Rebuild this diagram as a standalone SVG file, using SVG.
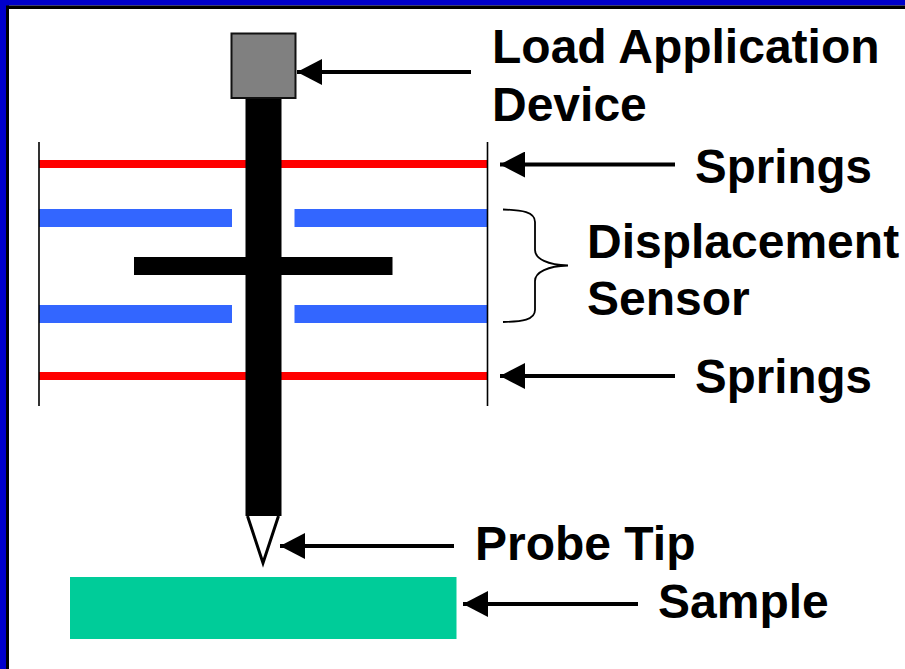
<svg xmlns="http://www.w3.org/2000/svg" width="905" height="669" viewBox="0 0 905 669">
<style>
text{font-family:"Liberation Sans",Arial,sans-serif;font-weight:bold;font-size:48px;fill:#000}
text.s{font-size:47.5px}
.arrow{stroke:#000;stroke-width:4;fill:none;marker-start:url(#ah)}
.red{fill:#f00}.blue{fill:#36f}
.wall{stroke:#000;stroke-width:1.6;fill:none}
</style>
<defs>
<marker id="ah" markerUnits="userSpaceOnUse" markerWidth="26" markerHeight="26" refX="0" refY="13" orient="auto">
<path d="M0 13L25 0V26Z" fill="#000"/>
</marker>
</defs>
<rect width="905" height="669" fill="#fff"/>
<g id="frame">
<path d="M0 0H905V5.500H9V669H0Z" fill="#0000cc"/>
<path d="M6 5.500H905V9H9V669H6Z" fill="#000"/>
</g>
<g id="springs">
<rect class="red" x="39" y="160" width="448" height="8"/>
<rect class="red" x="39" y="372" width="448" height="8"/>
</g>
<g id="sensor-plates">
<rect class="blue" x="39" y="209" width="193" height="18"/>
<rect class="blue" x="294.500" y="209" width="192.500" height="18"/>
<rect class="blue" x="39" y="305" width="193" height="18"/>
<rect class="blue" x="294.500" y="305" width="192.500" height="18"/>
</g>
<g id="walls">
<path class="wall" d="M39 142V406M487.500 142V406"/>
</g>
<g id="probe">
<rect x="245.500" y="98" width="36" height="418" fill="#000"/>
<rect x="134" y="257" width="258.500" height="18" fill="#000"/>
</g>
<g id="load-device">
<rect x="231.500" y="33.500" width="64" height="64.500" fill="#808080" stroke="#111" stroke-width="2"/>
</g>
<g id="tip">
<path d="M247.500 516L263 563L278.500 516" fill="#fff" stroke="#000" stroke-width="3"/>
</g>
<g id="sample">
<rect x="70" y="577" width="386.500" height="62" fill="#00cc99"/>
</g>
<g id="connectors">
<path class="arrow" d="M297 72H471"/>
<path class="arrow" d="M500 164.500H675"/>
<path class="arrow" d="M500 376H675"/>
<path class="arrow" d="M280 546H454"/>
<path class="arrow" d="M463 604H638"/>
<path d="M503 209.500C522 210 535 212 535 222V250C535 259 548 265 568 265.500C548 266 535 272 535 281V310C535 320 522 321.500 503 322" fill="none" stroke="#000" stroke-width="1.800"/>
</g>
<g id="labels">
<text x="492" y="63">Load Application</text>
<text x="492" y="121">Device</text>
<text class="s" x="695" y="183">Springs</text>
<text x="587" y="258">Displacement</text>
<text x="587" y="315">Sensor</text>
<text class="s" x="695" y="393">Springs</text>
<text x="475" y="560">Probe Tip</text>
<text x="658" y="618">Sample</text>
</g>
</svg>
